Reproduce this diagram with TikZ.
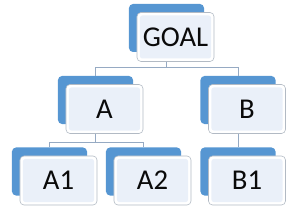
\documentclass[tikz,border=0pt]{standalone}
\usepackage{fontspec}
\setmainfont{Carlito}
\usetikzlibrary{calc,positioning}
\definecolor{tblue}{RGB}{86,150,210}
\definecolor{tpale}{RGB}{234,240,249}
\definecolor{tedge}{RGB}{178,186,196}
\definecolor{tlink}{RGB}{150,170,195}
\definecolor{ttext}{RGB}{10,10,10}
\tikzset{
  backbox/.style={fill=tblue, rounded corners=3.4pt,
                  minimum width=2.25cm, minimum height=1.44cm, inner sep=0pt},
  frontbox/.style={draw=tedge, fill=white, line width=0.5pt, rounded corners=3.4pt,
                   minimum width=2.31cm, minimum height=1.47cm, inner sep=0pt,
                   font=\fontsize{24.5}{27}\selectfont, text=ttext,
                   path picture={\fill[tpale, rounded corners=2pt]
                     ($(path picture bounding box.south west)+(0.09cm,0.09cm)$) rectangle
                     ($(path picture bounding box.north east)+(-0.09cm,-0.09cm)$);}},
  link/.style={draw=tlink, line width=0.6pt},
}
\begin{document}
\begin{tikzpicture}[x=0.03cm, y=0.03cm]
\useasboundingbox (0,0) rectangle (300,220);

% back boxes
\node[backbox] (goalbk) at (166.5,192) {};
\node[backbox] (abk) at (95.5,120) {};
\node[backbox] (bbk) at (238,120) {};
\node[backbox] (aonebk) at (49.5,48.5) {};
\node[backbox] (atwobk) at (143.5,48.5) {};
\node[backbox] (bonebk) at (238,48.5) {};

% front boxes
\node[frontbox] (goal) at ([shift={(9,-9)}]goalbk) {GOAL};
\node[frontbox] (a) at ([shift={(9,-9)}]abk) {A};
\node[frontbox] (b) at ([shift={(9,-9)}]bbk) {B};
\node[frontbox] (aone) at ([shift={(9,-9)}]aonebk) {A1};
\node[frontbox] (atwo) at ([shift={(9,-9)}]atwobk) {A2};
\node[frontbox] (bone) at ([shift={(9,-9)}]bonebk) {B1};

% connectors
\draw[link] (goalbk |- goal.south) -- ++(0,-6) -| (abk.north);
\draw[link] (goalbk |- goal.south) -- ++(0,-6) -| (bbk.north);
\draw[link] (abk |- a.south) -- ++(0,-9) -| (aonebk.north);
\draw[link] (abk |- a.south) -- ++(0,-9) -| (atwobk.north);
\draw[link] (bbk |- b.south) -- (bonebk.north);

\end{tikzpicture}
\end{document}
